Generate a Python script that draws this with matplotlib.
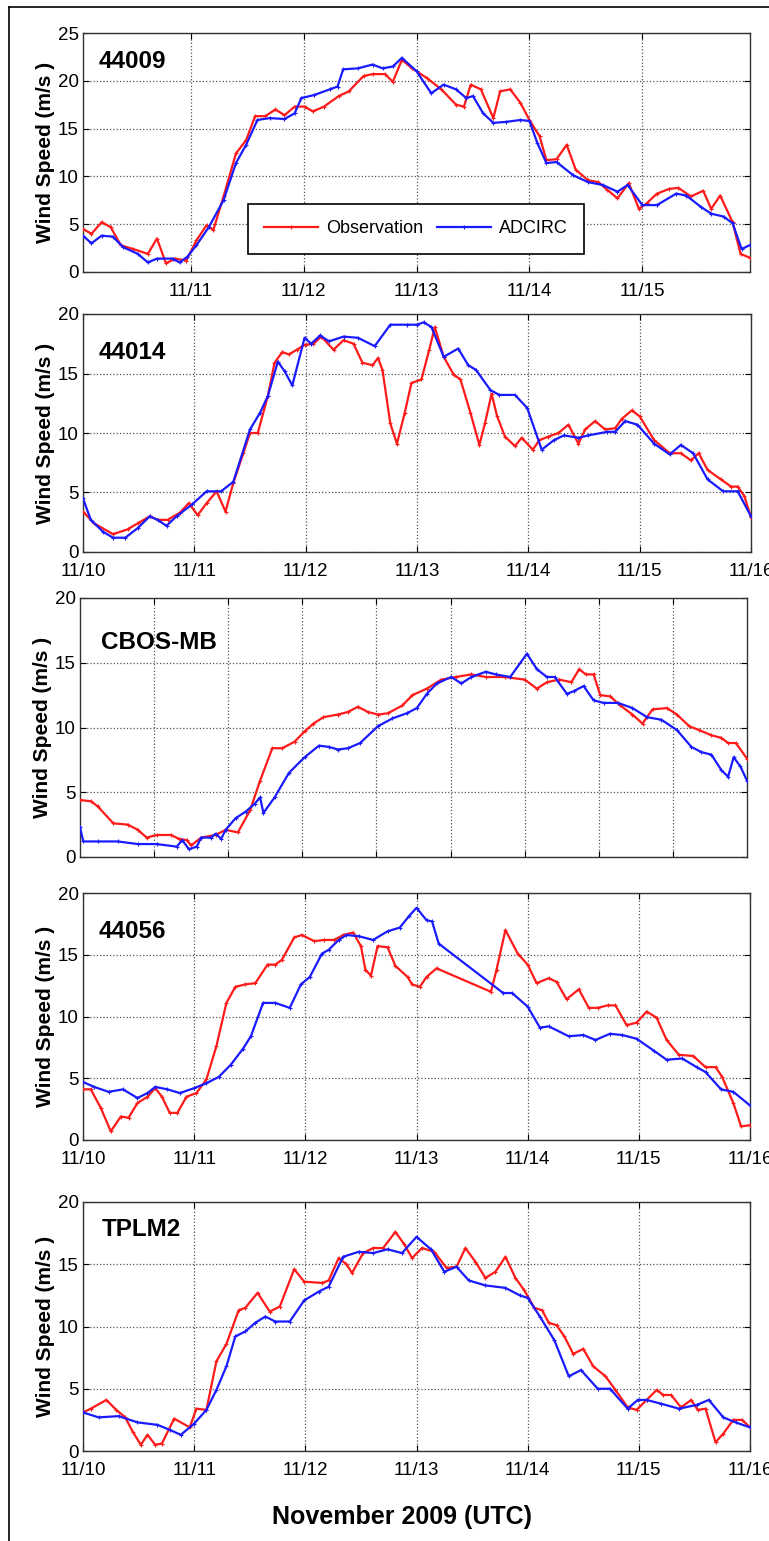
import matplotlib
matplotlib.use("Agg")
import matplotlib.pyplot as plt
from matplotlib.lines import Line2D

# ---- data: time in day-of-month (November 2009, UTC), wind speed in m/s ----
stations = ["44009", "44014", "CBOS-MB", "44056", "TPLM2"]
y_max = [25, 20, 20, 20, 20]

day_ticks = [10, 11, 12, 13, 14, 15, 16]
day_labels = ["11/10", "11/11", "11/12", "11/13", "11/14", "11/15", "11/16"]

# 44009
obs1_t = [10.045, 10.12, 10.21, 10.29, 10.38, 10.49, 10.62, 10.70, 10.78, 10.86, 10.96, 11.05, 11.14, 11.20,
          11.29, 11.40, 11.49, 11.57, 11.66, 11.75, 11.83, 11.92, 12.01, 12.08, 12.18, 12.31, 12.40, 12.53,
          12.61, 12.72, 12.79, 12.87, 12.96, 13.09, 13.22, 13.35, 13.42, 13.48, 13.57, 13.68, 13.74, 13.83,
          13.92, 14.00, 14.09, 14.15, 14.24, 14.33, 14.41, 14.52, 14.61, 14.69, 14.78, 14.88, 14.97, 15.04,
          15.13, 15.24, 15.32, 15.43, 15.54, 15.61, 15.69, 15.80, 15.87, 15.95]
obs1_v = [4.5, 4.0, 5.2, 4.7, 2.8, 2.4, 1.9, 3.5, 0.9, 1.4, 1.2, 3.3, 4.9, 4.4,
          7.9, 12.4, 13.8, 16.3, 16.3, 17.0, 16.4, 17.3, 17.3, 16.8, 17.3, 18.4, 18.9, 20.5,
          20.7, 20.7, 19.9, 22.2, 21.3, 20.3, 19.1, 17.5, 17.3, 19.6, 19.1, 16.1, 18.9, 19.1,
          17.7, 15.9, 14.2, 11.7, 11.8, 13.3, 10.7, 9.6, 9.4, 8.6, 7.7, 9.3, 6.6, 7.2,
          8.2, 8.7, 8.8, 7.9, 8.5, 6.6, 8.0, 5.2, 1.9, 1.5]
mod1_t = [10.045, 10.12, 10.21, 10.31, 10.40, 10.53, 10.62, 10.70, 10.84, 10.90, 10.97, 11.05, 11.16, 11.29,
          11.40, 11.49, 11.59, 11.70, 11.83, 11.92, 11.98, 12.09, 12.23, 12.30, 12.35, 12.48, 12.61, 12.70,
          12.79, 12.87, 13.00, 13.13, 13.24, 13.35, 13.44, 13.50, 13.59, 13.68, 13.79, 13.92, 14.00, 14.07,
          14.15, 14.24, 14.39, 14.52, 14.65, 14.78, 14.87, 15.00, 15.13, 15.30, 15.39, 15.52, 15.61, 15.72,
          15.80, 15.88, 15.95]
mod1_v = [3.8, 3.0, 3.8, 3.7, 2.6, 1.9, 1.0, 1.4, 1.4, 1.0, 1.6, 2.8, 4.7, 7.5,
          11.4, 13.3, 15.9, 16.1, 16.0, 16.6, 18.2, 18.5, 19.1, 19.4, 21.2, 21.3, 21.7, 21.3,
          21.5, 22.4, 21.0, 18.7, 19.6, 19.1, 18.2, 18.4, 16.6, 15.6, 15.7, 15.9, 15.8, 13.5,
          11.4, 11.5, 10.1, 9.4, 9.1, 8.4, 9.1, 7.0, 7.0, 8.2, 8.0, 6.8, 6.1, 5.8,
          5.1, 2.4, 2.8]

# 44014
obs2_t = [10.00, 10.10, 10.27, 10.40, 10.49, 10.60, 10.67, 10.76, 10.87, 10.95, 11.03, 11.11, 11.20, 11.28,
          11.35, 11.44, 11.50, 11.57, 11.66, 11.72, 11.79, 11.85, 11.92, 11.99, 12.07, 12.14, 12.25, 12.34,
          12.43, 12.51, 12.60, 12.65, 12.69, 12.76, 12.82, 12.89, 12.95, 13.04, 13.11, 13.16, 13.24, 13.33,
          13.39, 13.48, 13.56, 13.61, 13.67, 13.72, 13.79, 13.88, 13.94, 14.04, 14.10, 14.18, 14.27, 14.36,
          14.45, 14.51, 14.60, 14.69, 14.78, 14.84, 14.93, 15.00, 15.13, 15.27, 15.37, 15.46, 15.53, 15.61,
          15.73, 15.82, 15.88, 15.94, 16.00]
obs2_v = [3.4, 2.4, 1.5, 1.9, 2.4, 3.0, 2.7, 2.7, 3.3, 4.1, 3.1, 4.1, 5.1, 3.4,
          5.8, 8.3, 10.0, 10.0, 13.1, 15.9, 16.8, 16.6, 17.0, 17.4, 17.5, 18.1, 17.0, 17.8,
          17.5, 15.9, 15.7, 16.3, 15.3, 10.8, 9.1, 11.7, 14.2, 14.5, 17.0, 18.9, 16.4, 14.9,
          14.5, 11.7, 9.0, 10.8, 13.3, 11.4, 9.7, 8.9, 9.6, 8.6, 9.4, 9.7, 10.0, 10.7,
          9.1, 10.3, 11.0, 10.3, 10.4, 11.2, 11.9, 11.4, 9.4, 8.3, 8.3, 7.7, 8.3, 6.9,
          6.1, 5.5, 5.5, 4.7, 2.9]
mod2_t = [10.00, 10.07, 10.18, 10.27, 10.38, 10.49, 10.60, 10.67, 10.75, 10.84, 10.98, 11.11, 11.24, 11.35,
          11.50, 11.59, 11.66, 11.75, 11.81, 11.88, 11.99, 12.05, 12.13, 12.21, 12.34, 12.47, 12.62, 12.76,
          12.91, 13.00, 13.06, 13.13, 13.24, 13.37, 13.46, 13.53, 13.66, 13.74, 13.88, 13.99, 14.12, 14.23,
          14.32, 14.45, 14.54, 14.71, 14.78, 14.87, 14.98, 15.13, 15.27, 15.37, 15.48, 15.61, 15.75, 15.88,
          16.00]
mod2_v = [4.5, 2.7, 1.7, 1.2, 1.2, 2.0, 3.0, 2.7, 2.2, 3.0, 4.0, 5.1, 5.1, 5.9,
          10.3, 11.7, 13.1, 16.0, 15.2, 14.0, 18.0, 17.5, 18.2, 17.7, 18.1, 18.0, 17.3, 19.1,
          19.1, 19.1, 19.3, 18.9, 16.4, 17.1, 15.7, 15.3, 13.6, 13.2, 13.2, 12.1, 8.6, 9.4,
          9.8, 9.6, 9.8, 10.1, 10.1, 11.0, 10.7, 9.1, 8.2, 9.0, 8.3, 6.1, 5.1, 5.1,
          3.0]

# CBOS-MB
obs3_t = [10.00, 10.10, 10.16, 10.30, 10.43, 10.52, 10.60, 10.69, 10.82, 10.89, 10.96, 11.00, 11.09, 11.22,
          11.31, 11.42, 11.53, 11.62, 11.73, 11.82, 11.93, 12.02, 12.10, 12.19, 12.32, 12.41, 12.50, 12.59,
          12.68, 12.77, 12.90, 12.99, 13.12, 13.25, 13.38, 13.52, 13.65, 13.82, 14.00, 14.11, 14.20, 14.31,
          14.42, 14.49, 14.55, 14.62, 14.68, 14.77, 14.86, 14.97, 15.06, 15.15, 15.28, 15.37, 15.48, 15.57,
          15.68, 15.77, 15.83, 15.90, 16.00]
obs3_v = [4.4, 4.3, 3.9, 2.6, 2.5, 2.1, 1.5, 1.7, 1.7, 1.4, 1.3, 0.9, 1.5, 1.7,
          2.1, 1.9, 3.6, 5.9, 8.4, 8.4, 8.9, 9.7, 10.3, 10.8, 11.0, 11.2, 11.6, 11.2,
          11.0, 11.1, 11.7, 12.5, 13.0, 13.7, 13.9, 14.1, 13.9, 13.9, 13.7, 13.0, 13.5, 13.7,
          13.5, 14.5, 14.1, 14.1, 12.5, 12.4, 11.7, 11.0, 10.3, 11.4, 11.5, 11.0, 10.1, 9.8,
          9.4, 9.2, 8.8, 8.8, 7.6]
mod3_t = [10.00, 10.03, 10.16, 10.34, 10.52, 10.69, 10.87, 10.92, 10.98, 11.05, 11.09, 11.18, 11.22, 11.27,
          11.31, 11.40, 11.49, 11.57, 11.62, 11.65, 11.75, 11.88, 12.02, 12.15, 12.24, 12.32, 12.41, 12.52,
          12.68, 12.81, 12.94, 13.03, 13.12, 13.21, 13.34, 13.43, 13.52, 13.65, 13.74, 13.87, 14.02, 14.11,
          14.20, 14.27, 14.38, 14.44, 14.53, 14.62, 14.71, 14.84, 14.97, 15.10, 15.23, 15.37, 15.50, 15.59,
          15.68, 15.77, 15.83, 15.88, 15.94, 16.00]
mod3_v = [2.3, 1.2, 1.2, 1.2, 1.0, 1.0, 0.8, 1.3, 0.6, 0.8, 1.5, 1.5, 1.8, 1.4,
          2.1, 3.0, 3.5, 4.1, 4.6, 3.4, 4.6, 6.5, 7.7, 8.6, 8.5, 8.3, 8.4, 8.8,
          10.1, 10.7, 11.1, 11.5, 12.6, 13.4, 13.9, 13.4, 13.9, 14.3, 14.1, 13.9, 15.7, 14.5,
          13.9, 13.9, 12.6, 12.8, 13.2, 12.1, 11.9, 11.9, 11.5, 10.8, 10.6, 9.8, 8.5, 8.1,
          7.9, 6.7, 6.2, 7.7, 7.0, 5.9]

# 44056
obs4_t = [10.00, 10.07, 10.16, 10.25, 10.34, 10.41, 10.49, 10.58, 10.65, 10.71, 10.78, 10.85, 10.93, 11.02,
          11.11, 11.20, 11.29, 11.37, 11.46, 11.55, 11.66, 11.73, 11.79, 11.90, 11.97, 12.08, 12.17, 12.26,
          12.34, 12.43, 12.50, 12.54, 12.59, 12.65, 12.74, 12.81, 12.92, 12.96, 13.03, 13.09, 13.18, 13.67,
          13.72, 13.80, 13.91, 14.00, 14.08, 14.19, 14.26, 14.35, 14.46, 14.55, 14.63, 14.72, 14.79, 14.89,
          14.98, 15.07, 15.16, 15.25, 15.36, 15.49, 15.60, 15.69, 15.75, 15.85, 15.92, 16.00]
obs4_v = [4.1, 4.1, 2.6, 0.7, 1.9, 1.8, 3.0, 3.5, 4.2, 3.5, 2.2, 2.2, 3.5, 3.8,
          4.9, 7.6, 11.1, 12.4, 12.6, 12.7, 14.2, 14.2, 14.6, 16.4, 16.6, 16.1, 16.2, 16.2,
          16.6, 16.8, 15.7, 13.8, 13.3, 15.7, 15.6, 14.1, 13.2, 12.6, 12.4, 13.2, 13.9, 12.0,
          13.8, 17.0, 15.1, 14.2, 12.7, 13.1, 12.8, 11.4, 12.2, 10.7, 10.7, 10.9, 10.9, 9.3,
          9.5, 10.4, 9.9, 8.1, 6.9, 6.8, 5.9, 5.9, 5.1, 3.0, 1.1, 1.2]
mod4_t = [10.00, 10.10, 10.23, 10.36, 10.49, 10.58, 10.65, 10.76, 10.87, 11.00, 11.11, 11.22, 11.33, 11.44,
          11.51, 11.62, 11.73, 11.86, 11.96, 12.04, 12.15, 12.21, 12.30, 12.37, 12.48, 12.61, 12.74, 12.85,
          12.93, 13.00, 13.09, 13.14, 13.20, 13.78, 13.86, 14.00, 14.11, 14.19, 14.37, 14.50, 14.61, 14.74,
          14.85, 14.98, 15.14, 15.25, 15.39, 15.52, 15.60, 15.74, 15.85, 16.00]
mod4_v = [4.7, 4.3, 3.9, 4.1, 3.4, 3.8, 4.3, 4.1, 3.8, 4.2, 4.6, 5.1, 6.1, 7.4,
          8.4, 11.1, 11.1, 10.7, 12.6, 13.2, 15.1, 15.4, 16.2, 16.6, 16.5, 16.2, 16.9, 17.2,
          18.1, 18.8, 17.8, 17.7, 15.9, 11.9, 11.9, 10.8, 9.1, 9.2, 8.4, 8.5, 8.1, 8.6,
          8.5, 8.2, 7.2, 6.5, 6.6, 5.9, 5.5, 4.1, 3.9, 2.8]

# TPLM2
obs5_t = [10.00, 10.07, 10.21, 10.30, 10.38, 10.45, 10.52, 10.58, 10.65, 10.71, 10.82, 10.96, 11.02, 11.11,
          11.20, 11.29, 11.40, 11.46, 11.57, 11.68, 11.77, 11.90, 11.99, 12.15, 12.21, 12.30, 12.37, 12.42,
          12.52, 12.61, 12.70, 12.81, 12.89, 12.96, 13.05, 13.16, 13.27, 13.36, 13.44, 13.53, 13.62, 13.71,
          13.80, 13.89, 13.97, 14.06, 14.13, 14.19, 14.26, 14.33, 14.41, 14.50, 14.59, 14.70, 14.79, 14.90,
          14.98, 15.07, 15.16, 15.22, 15.29, 15.38, 15.47, 15.53, 15.60, 15.69, 15.76, 15.85, 15.93, 16.00]
obs5_v = [3.1, 3.4, 4.1, 3.3, 2.7, 1.5, 0.5, 1.3, 0.5, 0.6, 2.6, 1.9, 3.4, 3.3,
          7.2, 8.6, 11.3, 11.5, 12.7, 11.2, 11.6, 14.6, 13.6, 13.5, 13.7, 15.5, 15.0, 14.3,
          15.9, 16.3, 16.3, 17.6, 16.6, 15.5, 16.3, 16.0, 14.7, 14.8, 16.3, 15.2, 13.9, 14.4,
          15.6, 13.9, 12.9, 11.5, 11.3, 10.3, 10.1, 9.2, 7.8, 8.2, 6.8, 6.0, 4.9, 3.5,
          3.3, 4.1, 4.9, 4.5, 4.5, 3.5, 4.1, 3.3, 3.4, 0.7, 1.4, 2.5, 2.5, 1.9]
mod5_t = [10.00, 10.14, 10.32, 10.49, 10.67, 10.78, 10.88, 11.00, 11.11, 11.20, 11.29, 11.37, 11.46, 11.55,
          11.64, 11.73, 11.86, 11.99, 12.12, 12.21, 12.34, 12.48, 12.61, 12.74, 12.87, 13.00, 13.13, 13.25,
          13.36, 13.47, 13.62, 13.80, 13.93, 14.00, 14.11, 14.24, 14.37, 14.48, 14.63, 14.74, 14.90, 14.99,
          15.07, 15.20, 15.36, 15.52, 15.63, 15.76, 15.87, 16.00]
mod5_v = [3.1, 2.7, 2.8, 2.3, 2.1, 1.7, 1.3, 2.2, 3.3, 4.9, 6.8, 9.2, 9.6, 10.3,
          10.8, 10.4, 10.4, 12.1, 12.8, 13.2, 15.6, 16.0, 15.9, 16.2, 15.9, 17.2, 16.2, 14.4,
          14.8, 13.7, 13.3, 13.1, 12.5, 12.3, 10.8, 8.9, 6.0, 6.5, 5.0, 5.0, 3.4, 4.1,
          4.1, 3.8, 3.4, 3.7, 4.1, 2.7, 2.3, 1.9]

observations = [(obs1_t, obs1_v), (obs2_t, obs2_v), (obs3_t, obs3_v), (obs4_t, obs4_v), (obs5_t, obs5_v)]
model_runs = [(mod1_t, mod1_v), (mod2_t, mod2_v), (mod3_t, mod3_v), (mod4_t, mod4_v), (mod5_t, mod5_v)]

# ---- layout ----
W, H = 769, 1541
# (left, right, top, bottom) in pixels
boxes = [(83, 750, 33, 272), (83, 751, 314, 552), (80, 747, 598, 857),
         (83, 750, 893, 1140), (83, 750, 1202, 1451)]
label_pos = [(0.024, 0.879), (0.024, 0.840), (0.031, 0.830), (0.024, 0.846), (0.028, 0.888)]

narrow = ["Liberation Sans Narrow", "Liberation Sans", "DejaVu Sans"]
plain = ["Liberation Sans", "DejaVu Sans"]
plt.rcParams["font.family"] = plain

fig = plt.figure(figsize=(W / 100, H / 100), dpi=100)

# partial frame around the figure (top and left edges)
fig.add_artist(Line2D([9 / W, 9 / W], [0, 1 - 7 / H], color="black", lw=1.2, transform=fig.transFigure))
fig.add_artist(Line2D([9 / W, 1], [1 - 7 / H, 1 - 7 / H], color="black", lw=1.2, transform=fig.transFigure))

red = "#ff1a1a"
blue = "#1a1aff"

for i, (l, r, t, b) in enumerate(boxes):
    ax = fig.add_axes([l / W, 1 - b / H, (r - l) / W, (b - t) / H])
    ot, ov = observations[i]
    mt, mv = model_runs[i]
    ax.plot(ot, ov, color=red, lw=1.6, marker="+", ms=3, mew=0.8, label="Observation", zorder=3)
    ax.plot(mt, mv, color=blue, lw=1.6, marker="+", ms=3, mew=0.8, label="ADCIRC", zorder=3)

    ax.set_ylim(0, y_max[i])
    ax.set_yticks(range(0, y_max[i] + 1, 5))
    if i == 0:
        ax.set_xlim(10.045, 15.954)
        ax.set_xticks(day_ticks[1:6])
        ax.set_xticklabels(day_labels[1:6])
    elif i == 2:
        ax.set_xlim(10, 16)
        ax.set_xticks([10 + 2 * k / 3 for k in range(1, 9)])
        ax.set_xticklabels([])
    else:
        ax.set_xlim(10, 16)
        ax.set_xticks(day_ticks)
        ax.set_xticklabels(day_labels)

    for lab in ax.get_xticklabels() + ax.get_yticklabels():
        lab.set_family(narrow)
        lab.set_fontsize(13.5)
    ax.tick_params(direction="in", length=4, width=0.8, top=True, right=True)
    ax.tick_params(axis="x", pad=8)
    ax.tick_params(axis="y", pad=3)
    ax.grid(True, linestyle=":", color="#555555", lw=0.9)
    for s in ax.spines.values():
        s.set_color("#333333")
        s.set_linewidth(1.0)

    ax.set_ylabel("Wind Speed (m/s )", fontsize=15, fontweight="bold", labelpad=2)
    ax.text(label_pos[i][0], label_pos[i][1], stations[i], transform=ax.transAxes,
            fontsize=17.5, fontweight="bold", va="center", ha="left")

    if i == 0:
        leg = ax.legend(loc="center", bbox_to_anchor=(0.499, 0.18), ncol=2, numpoints=1,
                        prop={"family": narrow, "size": 13}, handlelength=3.0,
                        columnspacing=0.8, handletextpad=0.4, borderpad=0.9,
                        fancybox=False, framealpha=1)
        leg.get_frame().set_edgecolor("black")
        leg.get_frame().set_linewidth(1.2)

fig.text(402 / W, 1 - 1517 / H, "November 2009 (UTC)", ha="center", va="center",
         fontsize=18, fontweight="bold")

fig.savefig("out.png", dpi=100)
